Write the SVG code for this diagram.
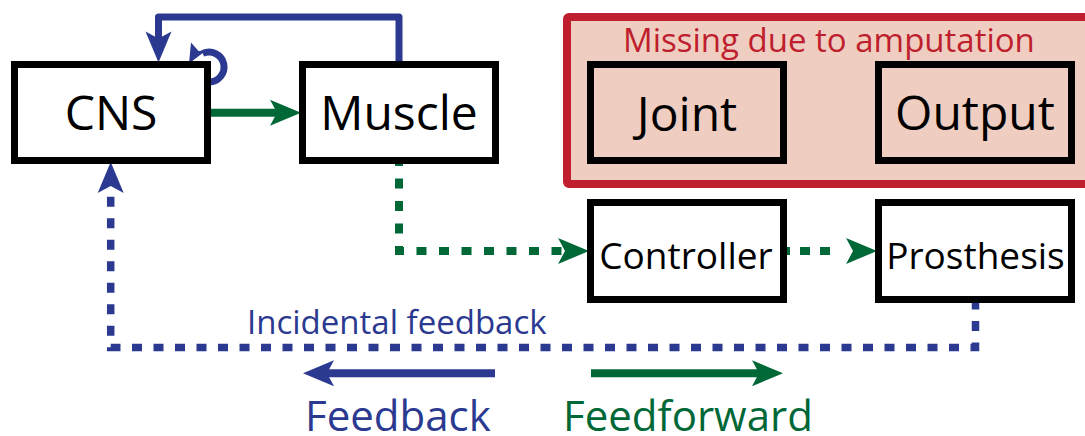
<svg xmlns="http://www.w3.org/2000/svg" xmlns:xlink="http://www.w3.org/1999/xlink" width="1085" height="436" viewBox="0 0 1085 436">
<style>
.box{fill:#ffffff;stroke:#000000;stroke-width:7}
.pbox{fill:#efcdc0;stroke:#000000;stroke-width:7}
.lbl{font-family:"Open Sans","Noto Sans",sans-serif;fill:#000000;text-anchor:middle}
.big{font-size:48px}
.mid{font-size:37px}
.blue{stroke:#2b3990;fill:none}
.green{stroke:#006837;fill:none}
.t-blue{fill:#2b3990}
.t-green{fill:#006837}
.note{font-family:"Open Sans","Noto Sans",sans-serif}
</style>
<defs>
<path id="ah" d="M0,0 L-31,-13 L-24,0 L-31,13 Z"/>
</defs>
<rect width="1085" height="436" fill="#ffffff"/>
<g id="amputation-group">
<rect x="567" y="17" width="530" height="167" rx="2" fill="#efcdc0" stroke="#be1e2d" stroke-width="8"/>
<text class="note" x="623" y="52" font-size="33" fill="#be1e2d">Missing due to amputation</text>
</g>
<g id="connectors">
<path class="blue" stroke-width="7" stroke-linejoin="round" d="M399,62 V17 H158.5 V40"/>
<use xlink:href="#ah" href="#ah" class="t-blue" transform="translate(158.5,62.5) rotate(90)"/>
<path class="blue" stroke-width="7" d="M209,82 A15,15 0 1 0 202.7,53.4"/>
<polygon class="t-blue" points="189,63.5 191,42.5 198.5,51 206,50.5"/>
<path class="green" stroke-width="8" d="M211,112.8 H280"/>
<use xlink:href="#ah" href="#ah" class="t-green" transform="translate(301,112.8)"/>
<path class="green" stroke-width="8" stroke-dasharray="10 12.5" d="M399,156 V251 H566"/>
<use xlink:href="#ah" href="#ah" class="t-green" transform="translate(589,251)"/>
<path class="green" stroke-width="8" stroke-dasharray="10 10" d="M780,251 H838"/>
<use xlink:href="#ah" href="#ah" class="t-green" transform="translate(877,251)"/>
<path class="blue" stroke-width="7.5" stroke-dasharray="10 11.5" d="M975.5,299.5 V347.5 H110.7 V190"/>
<use xlink:href="#ah" href="#ah" class="t-blue" transform="translate(110.7,162) rotate(-90)"/>
</g>
<g id="node-cns">
<rect class="box" x="14.5" y="64.5" width="193" height="96"/>
<text class="lbl big" x="111" y="130">CNS</text>
</g>
<g id="node-muscle">
<rect class="box" x="302.5" y="64.5" width="193" height="96"/>
<text class="lbl big" x="399" y="130">Muscle</text>
</g>
<g id="node-joint">
<rect class="pbox" x="590.5" y="64.5" width="193" height="96"/>
<text class="lbl big" x="687" y="131">Joint</text>
</g>
<g id="node-output">
<rect class="pbox" x="878.5" y="64.5" width="193" height="96"/>
<text class="lbl big" x="975" y="130">Output</text>
</g>
<g id="node-controller">
<rect class="box" x="590.5" y="202.5" width="193" height="97"/>
<text class="lbl mid" x="686" y="269">Controller</text>
</g>
<g id="node-prosthesis">
<rect class="box" x="878.5" y="202.5" width="193" height="97"/>
<text class="lbl mid" x="975.5" y="269">Prosthesis</text>
</g>
<g id="labels">
<text class="note t-blue" x="247" y="334" font-size="33">Incidental feedback</text>
</g>
<g id="legend">
<path class="blue" stroke-width="8" d="M495,373.3 H327"/>
<use xlink:href="#ah" href="#ah" class="t-blue" transform="translate(303,373.3) rotate(180)"/>
<path class="green" stroke-width="8" d="M591,373.3 H760"/>
<use xlink:href="#ah" href="#ah" class="t-green" transform="translate(783,373.3)"/>
<text class="note t-blue" x="305" y="431" font-size="42">Feedback</text>
<text class="note t-green" x="563" y="431" font-size="42">Feedforward</text>
</g>
</svg>
